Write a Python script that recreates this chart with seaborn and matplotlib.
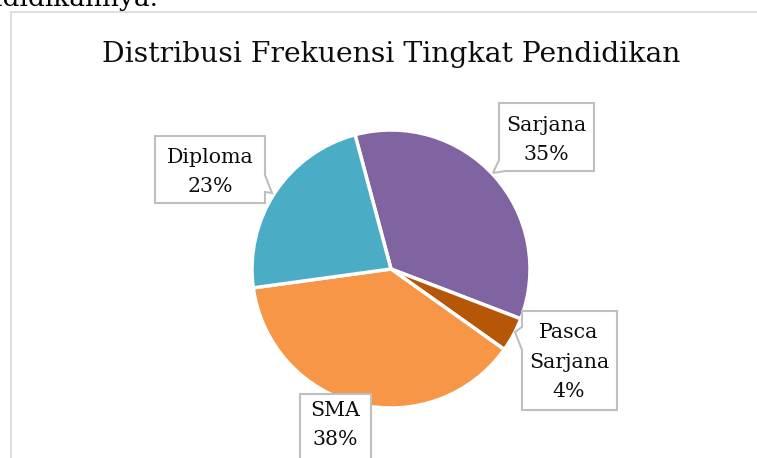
import matplotlib
matplotlib.use("Agg")
import matplotlib.pyplot as plt
import matplotlib.patches as mpatches
from matplotlib.lines import Line2D
import seaborn as sns

# Data
categories = ["Sarjana", "Pasca\nSarjana", "SMA", "Diploma"]
percentages = [35, 4, 38, 23]
slice_colors = ["#8064A2", "#B65708", "#F79646", "#4BACC6"]
title_text = "Distribusi Frekuensi Tingkat Pendidikan"

W, H = 757, 458

# callout outlines in pixels (x, y from top), tail included
CALLOUTS = [
    [(499, 103), (594, 103), (594, 171), (505, 171), (493, 173), (499, 160)],
    [(522, 311), (617, 311), (617, 410), (522, 410), (522, 350), (515, 332),
     (522, 327)],
    [(300, 394), (371, 394), (371, 470), (300, 470)],
    [(155, 136), (265, 136), (265, 175), (272, 193), (265, 192), (265, 203),
     (155, 203)],
]
# text centres inside the callouts
LABEL_POS = [(546, 140), (569, 362), (335, 425), (210, 172)]

sns.set_theme(style="white")
plt.rcParams['font.family'] = ['DejaVu Serif']


def fx(x):
  return x / W


def fy(y):
  return 1 - y / H


fig = plt.figure(figsize=(W / 100, H / 100), dpi=100)
fig.patch.set_facecolor("white")

# chart frame (partly cropped)
fig.add_artist(Line2D([fx(11), fx(11)], [fy(12), fy(460)], color="#D9D9D9", lw=1.2))
fig.add_artist(Line2D([fx(11), fx(760)], [fy(12), fy(12)], color="#D9D9D9", lw=1.2))

# cropped body text above chart
fig.text(fx(158), fy(6), "pendidikannya.", ha="right", va="baseline",
         fontsize=19, color="black")

# title
fig.text(fx(391), fy(55), title_text, ha="center", va="center",
         fontsize=20.3, color="#0D0D0D")

# pie
cx, cy, r = 391, 269, 139
ax = fig.add_axes([fx(cx - r), fy(cy + r), 2 * r / W, 2 * r / H])
ax.pie(percentages, colors=slice_colors, startangle=105, counterclock=False,
       wedgeprops=dict(edgecolor="white", linewidth=2.5))
ax.set_xlim(-1, 1)
ax.set_ylim(-1, 1)
ax.set_aspect("equal")
ax.axis("off")

# callout labels
for name, pct, outline, (tx, ty) in zip(categories, percentages, CALLOUTS,
                                         LABEL_POS):
  pts = [(fx(x), fy(y)) for x, y in outline]
  box = mpatches.Polygon(pts, closed=True, facecolor="white",
                         edgecolor="#BFBFBF", linewidth=1.5,
                         transform=fig.transFigure, zorder=3)
  fig.add_artist(box)
  fig.text(fx(tx), fy(ty), f"{name}\n{pct}%", ha="center", va="center",
           fontsize=14.8, color="#0D0D0D", linespacing=1.68, zorder=4)

fig.savefig("out.png", dpi=100)
